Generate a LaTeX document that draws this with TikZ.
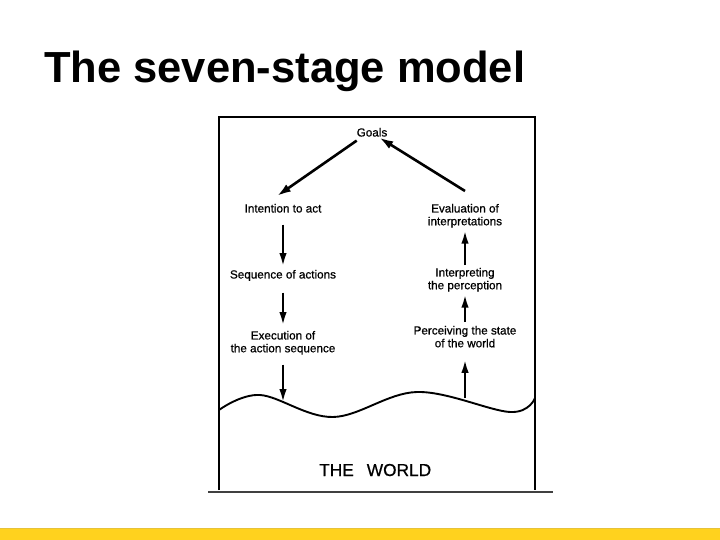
\documentclass[tikz,border=0pt]{standalone}
\usepackage{fontspec}
\setmainfont{Liberation Sans}
\newfontfamily\scanfont[FakeBold=0.7]{Liberation Sans}
\usetikzlibrary{arrows.meta}
\definecolor{baryellow}{HTML}{FFD21E}
\definecolor{baredge}{HTML}{E6C23A}
\begin{document}
\begin{tikzpicture}[x=1pt,y=-1pt,
  lbl/.style={inner sep=0pt,outer sep=0pt,align=center,anchor=north,
    font=\scanfont\fontsize{11.7}{12.8}\selectfont},
  arr/.style={line width=2.1pt,-{Latex[length=13pt,width=7.5pt]}},
  darr/.style={line width=2.6pt,-{Latex[length=14pt,width=8.5pt]}},
  frame/.style={line width=1.4pt,black}]
\useasboundingbox (0,0) rectangle (720,540);
% title
\node[inner sep=0pt,anchor=base west,font=\fontsize{43.5}{48}\selectfont\bfseries] (title) at (44,83) {The seven-stage model};
% frame
\draw[frame] (219,490) -- (219,117) -- (535,117) -- (535,490);
\draw[line width=2pt,black!75] (208,492) -- (553,492);
% wave
\draw[line width=1.9pt] plot[smooth,tension=0.6] coordinates {(219,410) (260,395) (333,417) (417,392) (510,412) (535,398)};
\coordinate (wl) at (283,402);
\coordinate (wr) at (465,398);
% nodes
\node[lbl] (goals) at (372,128) {Goals};
\node[lbl] (intent) at (283,204) {Intention to act};
\node[lbl] (seq) at (283,270) {Sequence of actions};
\node[lbl] (exec) at (283,331) {Execution of\\the action sequence};
\node[lbl] (eval) at (465,204) {Evaluation of\\interpretations};
\node[lbl] (interp) at (465,268) {Interpreting\\the perception};
\node[lbl] (perc) at (465,326) {Perceiving the state\\of the world};
\node[inner sep=0pt,anchor=base west,font=\scanfont\fontsize{17.3}{20}\selectfont] (world) at (319,476) {THE\hspace{13pt}WORLD};
% connectors
\draw[darr] ([yshift=-4pt]goals.south west) -- ([xshift=-6pt,yshift=8pt]intent.north);
\draw[darr] ([yshift=13pt]eval.north) -- ([xshift=-8pt,yshift=-1pt]goals.south east);
\draw[arr,shorten <=12pt,shorten >=4pt] (intent.south) -- (seq.north);
\draw[arr,shorten <=11.7pt,shorten >=6pt] (seq.south) -- (exec.north);
\draw[arr,shorten <=10pt] (exec.south) -- (wl);
\draw[arr,shorten >=12.5pt] (wr) -- (perc.south);
\draw[arr,shorten <=4pt,shorten >=3pt] (perc.north) -- (interp.south);
\draw[arr,shorten <=3pt,shorten >=3pt] (interp.north) -- (eval.south);
% bottom bar
\fill[baryellow] (0,528) rectangle (720,540);
\draw[baredge,line width=0.8pt] (0,528) -- (720,528);
\end{tikzpicture}
\end{document}
